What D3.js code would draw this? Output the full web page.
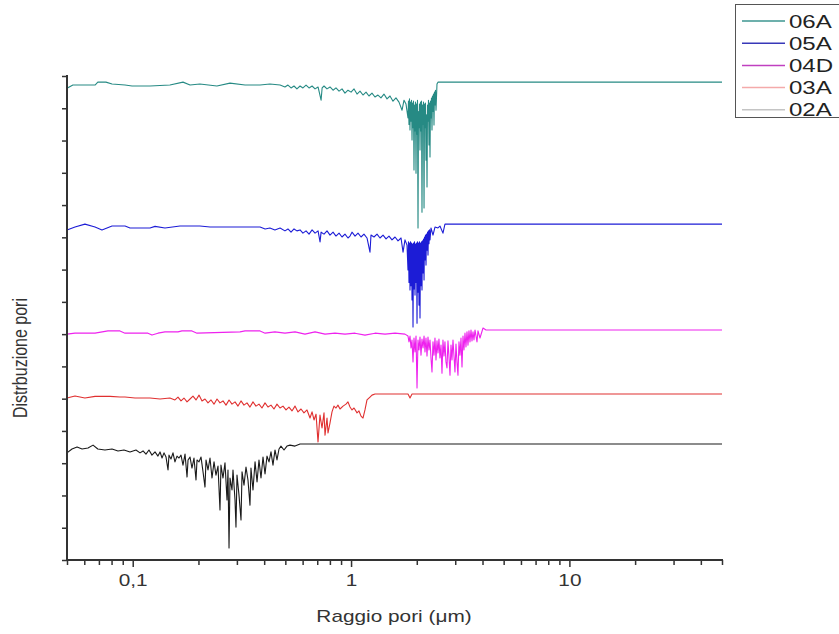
<!DOCTYPE html>
<html><head><meta charset="utf-8">
<script src="https://cdn.jsdelivr.net/npm/d3@7"></script>
<style>body{margin:0;background:#fff}svg{display:block}</style>
</head><body>
<svg id="c" width="839" height="634"></svg>
<script>
const seriesNames = ["06A","05A","04D","03A","02A"];
const xMajorTicks = [0.1, 1, 10];
const xTickLabels = ["0,1", "1", "10"];
const xMinorTicks = [0.05,0.06,0.07,0.08,0.09,0.2,0.3,0.4,0.5,0.6,0.7,0.8,0.9,2,3,4,5,6,7,8,9,20,30,40,50];
const yTicks = [0,1,2,3,4,5,6,7,8,9,10,11,12,13,14,15];

const data06A = [[0.050,14.62],[0.0532,14.72],[0.0672,14.72],[0.0692,14.81],[0.0754,14.81],[0.0804,14.75],[0.0922,14.72],[0.0993,14.69],[0.120,14.69],[0.148,14.72],[0.170,14.81],[0.183,14.72],[0.203,14.75],[0.243,14.69],[0.279,14.78],[0.327,14.72],[0.383,14.72],[0.425,14.75],[0.473,14.72],
[0.498,14.66],[0.514,14.72],[0.531,14.63],[0.548,14.69],[0.565,14.60],[0.584,14.69],[0.602,14.63],[0.622,14.72],[0.642,14.63],[0.663,14.69],[0.684,14.60],[0.706,14.66],[0.729,14.25],[0.737,14.63],[0.752,14.69],[0.776,14.60],[0.801,14.66],[0.827,14.56],[0.853,14.63],[0.881,14.53],[0.909,14.60],[0.938,14.47],[0.968,14.56],[1.000,14.50],[1.032,14.60],[1.065,14.44],[1.099,14.53],[1.134,14.41],[1.171,14.50],[1.208,14.38],[1.247,14.47],[1.287,14.35],[1.328,14.41],[1.371,14.32],[1.415,14.44],[1.461,14.29],[1.508,14.38],[1.556,14.22],[1.606,14.32],[1.658,14.19],[1.712,13.94],[1.748,14.25],[1.785,14.13],
[1.823,13.70],[1.832,14.22],[1.842,13.50],[1.852,14.29],[1.862,13.33],[1.872,14.19],[1.882,13.60],[1.892,14.25],[1.902,13.02],[1.912,14.16],[1.922,13.40],[1.932,14.22],[1.942,12.09],[1.953,14.10],[1.963,13.30],[1.973,14.19],[1.984,11.99],[1.994,14.13],[2.005,13.20],[2.015,14.25],[2.026,10.29],[2.036,13.90],[2.047,13.40],[2.058,14.13],[2.069,12.71],[2.080,14.19],[2.091,13.30],[2.102,14.22],[2.113,10.78],[2.124,14.10],[2.136,13.50],[2.147,14.19],[2.159,10.91],[2.170,14.13],[2.181,13.40],[2.192,14.16],[2.204,12.39],[2.216,13.80],[2.228,11.56],[2.240,14.10],[2.251,13.60],[2.263,14.25],[2.275,12.86],[2.287,14.16],[2.299,12.49],[2.311,14.22],[2.323,13.70],[2.335,14.32],[2.348,13.33],[2.360,14.38],[2.373,13.90],[2.385,14.44],[2.398,13.48],[2.410,14.50],[2.423,14.10],[2.436,14.56],[2.449,13.94],[2.475,14.75],[2.501,14.81],[50,14.81]];

const data05A = [[0.050,10.23],[0.0544,10.32],[0.0604,10.41],[0.0672,10.32],[0.0723,10.23],[0.0804,10.35],[0.0922,10.35],[0.0972,10.29],[0.120,10.29],[0.1265,10.34],[0.1405,10.29],[0.1646,10.35],[0.203,10.35],[0.226,10.32],[0.383,10.32],[0.404,10.26],[0.425,10.29],[0.448,10.23],[0.473,10.29],
[0.498,10.20],[0.514,10.26],[0.531,10.16],[0.548,10.26],[0.565,10.20],[0.584,10.23],[0.602,10.13],[0.622,10.20],[0.642,10.10],[0.663,10.23],[0.684,10.13],[0.706,10.20],[0.721,9.86],[0.729,10.16],[0.752,10.10],[0.776,10.20],[0.801,10.07],[0.827,10.16],[0.853,10.04],[0.881,10.13],[0.909,10.01],[0.938,10.10],[0.968,9.98],[0.989,10.04],[1.010,10.16],[1.043,10.04],[1.076,10.13],[1.111,10.01],[1.146,10.10],[1.183,9.98],[1.221,9.54],[1.234,10.07],[1.274,10.01],[1.315,10.10],[1.357,9.98],[1.401,10.07],[1.446,9.95],[1.492,10.04],[1.540,9.92],[1.590,10.01],[1.641,9.89],[1.694,9.98],[1.730,9.54],[1.766,9.92],[1.804,9.76],
[1.823,8.99],[1.832,9.86],[1.842,8.60],[1.852,9.82],[1.862,8.37],[1.872,9.86],[1.882,8.50],[1.892,9.82],[1.902,8.06],[1.912,9.79],[1.922,7.22],[1.932,9.82],[1.942,8.40],[1.953,9.86],[1.963,8.21],[1.973,9.79],[1.984,8.60],[1.994,9.82],[2.005,7.34],[2.015,9.86],[2.026,8.30],[2.036,9.82],[2.047,7.90],[2.058,9.86],[2.069,7.50],[2.080,9.82],[2.091,8.50],[2.102,9.86],[2.113,8.37],[2.124,9.89],[2.136,8.90],[2.147,9.95],[2.159,8.68],[2.170,10.01],[2.181,9.30],[2.192,10.07],[2.204,9.14],[2.216,10.10],[2.228,9.60],[2.240,10.16],[2.251,9.45],[2.263,10.20],[2.275,9.80],[2.287,10.23],[2.299,9.92],[2.323,10.29],[2.373,10.07],[2.423,10.32],[2.501,10.29],[2.554,10.35],[2.636,10.13],[2.692,10.41],[50,10.41]];

const data04D = [[0.050,7.00],[0.0544,7.03],[0.0672,7.03],[0.0770,7.10],[0.0874,7.10],[0.0922,7.03],[0.1174,7.03],[0.1225,6.97],[0.1305,7.03],[0.1405,7.07],[0.1612,7.07],[0.1681,7.10],[0.1868,7.10],[0.1970,7.03],[0.310,7.07],[0.327,7.10],[0.383,7.10],[0.404,7.03],[0.448,7.07],[0.498,7.03],[0.554,7.07],[0.615,7.00],[0.684,7.07],[0.760,7.00],[0.844,7.03],[0.938,7.00],[1.043,7.03],[1.158,6.97],[1.287,7.03],[1.431,7.00],[1.590,7.03],[1.766,7.00],
[1.823,6.94],[1.842,6.76],[1.862,6.94],[1.882,6.57],[1.902,6.82],[1.922,6.14],[1.942,6.88],[1.963,6.45],[1.984,6.94],[2.005,5.33],[2.026,6.82],[2.047,6.51],[2.069,6.91],[2.091,6.35],[2.113,6.85],[2.136,6.57],[2.159,6.94],[2.181,6.45],[2.204,6.88],[2.228,6.32],[2.251,6.91],[2.275,6.51],[2.299,6.82],[2.323,6.26],[2.348,5.83],[2.373,6.76],[2.398,6.35],[2.423,6.88],[2.449,6.20],[2.475,6.79],[2.501,6.42],[2.527,6.85],[2.554,6.26],[2.582,6.66],[2.609,5.79],[2.636,6.82],[2.665,6.32],[2.692,6.76],[2.721,6.14],[2.750,5.95],[2.779,6.79],[2.809,6.29],[2.839,5.73],[2.869,6.66],[2.899,6.20],[2.930,6.82],[2.961,6.32],[2.992,5.83],[3.024,6.69],[3.056,6.14],[3.088,5.73],[3.121,6.76],[3.154,6.35],[3.188,6.88],[3.222,5.98],[3.256,6.94],[3.290,6.51],[3.325,7.03],[3.360,6.60],[3.396,7.07],[3.432,6.66],[3.468,7.10],[3.505,6.76],[3.543,7.13],[3.580,6.79],[3.618,7.07],[3.656,6.82],[3.695,7.13],[3.774,6.76],[3.814,7.10],[3.895,6.88],[4.021,7.19],[4.150,7.13],[50,7.13]];

const data03A = [[0.050,5.02],[0.0544,5.08],[0.0604,5.02],[0.0672,5.07],[0.0787,5.07],[0.0874,5.05],[0.0922,5.05],[0.1024,5.02],[0.120,5.02],[0.1334,4.99],[0.148,5.02],[0.1561,4.96],[0.1612,5.05],[0.1664,4.93],[0.1717,5.02],[0.1773,4.90],[0.183,4.99],[0.1888,5.08],[0.1949,4.96],[0.2012,5.11],[0.2076,4.93],[0.2143,4.99],[0.2212,4.87],[0.2283,4.96],[0.2357,4.83],[0.2432,4.99],[0.2510,4.87],[0.2591,4.93],[0.2675,4.80],[0.2761,4.96],[0.2849,4.83],[0.2941,4.90],[0.3035,4.77],[0.3133,4.93],[0.3233,4.80],[0.3337,4.87],[0.3444,4.74],[0.3555,4.90],[0.3669,4.77],[0.3787,4.83],[0.3908,4.71],[0.4036,4.87],[0.4164,4.74],[0.4298,4.80],[0.4436,4.68],[0.4579,4.83],[0.4727,4.71],[0.4878,4.77],[0.5035,4.65],[0.5196,4.74],[0.5364,4.62],[0.5536,4.77],[0.5714,4.59],[0.5898,4.68],[0.6087,4.56],[0.6283,4.65],[0.6486,4.40],[0.6627,4.59],[0.6767,4.34],[0.6911,4.52],[0.7058,3.66],[0.7206,4.49],[0.7362,4.09],[0.7518,4.56],[0.7598,3.87],[0.7760,4.40],[0.7843,3.94],[0.801,4.25],[0.818,4.59],[0.835,4.77],[0.853,4.71],[0.871,4.80],[0.890,4.68],[0.919,4.77],[0.948,4.83],[0.968,4.90],[0.989,4.74],[1.010,4.65],[1.032,4.71],[1.065,4.56],[1.087,4.62],[1.111,4.46],[1.134,4.40],[1.158,4.65],[1.183,4.96],[1.221,5.05],[1.247,5.11],[1.287,5.145],[1.823,5.145],[1.862,5.02],[1.902,5.145],[50,5.145]];

const data02A = [[0.050,3.32],[0.0527,3.44],[0.0556,3.50],[0.0586,3.44],[0.0624,3.47],[0.0658,3.56],[0.0692,3.44],[0.0746,3.41],[0.0804,3.44],[0.0856,3.38],[0.0912,3.41],[0.0972,3.35],[0.1035,3.41],[0.1080,3.32],[0.1115,3.38],[0.1150,3.28],[0.1187,3.41],[0.1225,3.25],[0.1265,3.35],[0.1305,3.22],[0.1334,3.35],[0.1362,3.16],[0.1391,3.32],[0.1421,3.19],[0.1451,2.79],[0.1466,3.25],[0.1497,3.13],[0.1529,3.32],[0.1561,3.04],[0.1595,3.22],[0.1629,3.16],[0.1664,3.25],[0.1699,2.94],[0.1736,3.28],[0.1773,2.57],[0.1792,3.10],[0.1830,3.19],[0.1868,2.85],[0.1908,3.16],[0.1949,2.48],[0.1970,3.10],[0.2012,3.04],[0.2055,3.19],[0.2099,2.73],[0.2143,2.26],[0.2166,3.10],[0.2212,2.79],[0.2259,3.16],[0.2307,2.54],[0.2357,3.04],[0.2406,2.63],[0.2458,2.91],[0.2510,1.55],[0.2536,2.94],[0.2591,2.54],[0.2646,3.01],[0.2703,1.86],[0.2731,2.79],[0.2761,0.37],[0.2790,2.54],[0.2849,2.17],[0.2879,2.79],[0.2941,1.86],[0.2971,1.02],[0.3003,2.63],[0.3067,2.01],[0.3133,1.24],[0.3167,2.73],[0.3233,2.32],[0.3302,2.88],[0.3372,2.48],[0.3444,1.70],[0.3480,2.85],[0.3555,2.17],[0.3633,3.04],[0.3710,2.42],[0.3787,3.10],[0.3868,2.54],[0.3951,3.19],[0.4036,2.67],[0.4121,3.22],[0.4209,3.04],[0.4298,3.35],[0.4390,2.94],[0.4483,3.41],[0.4579,3.10],[0.4677,3.44],[0.4776,3.53],[0.4931,3.41],[0.5088,3.53],[0.5253,3.56],[0.5536,3.53],[0.584,3.595],[50,3.595]];

const seriesData = [data06A, data05A, data04D, data03A, data02A];
const lineColors = ["#268a84", "#1c1cd6", "#ee22ee", "#e03030", "#1a1a1a"];
const legendColors = ["#3d9690", "#3838b8", "#c040c0", "#f4aaaa", "#c4c4c4"];

const svg = d3.select("#c");
const font = "'Liberation Sans', Arial, sans-serif";
const SX = 1.3; // horizontal stretch of the text glyphs
const x = d3.scaleLog().domain([0.05, 50]).range([67, 722]);
const y = d3.scaleLinear().domain([0, 15]).range([560, 76]);

const line = d3.line().x(d => x(d[0])).y(d => y(d[1]));

seriesData.forEach((s, i) => {
  svg.append("path").datum(s)
    .attr("fill", "none")
    .attr("stroke", lineColors[i])
    .attr("stroke-width", 1.1)
    .attr("stroke-linejoin", "round")
    .attr("d", line);
});

// X axis
const xAxisG = svg.append("g").attr("transform", "translate(0,560)");
xAxisG.append("g").call(d3.axisBottom(x).tickValues(xMinorTicks).tickSize(5).tickFormat(""))
  .call(g => g.select(".domain").remove());
xAxisG.append("g").call(d3.axisBottom(x).tickValues(xMajorTicks).tickSize(7).tickPadding(8)
    .tickFormat((d, i) => xTickLabels[i]))
  .call(g => g.select(".domain").remove());
xAxisG.selectAll("line").attr("stroke", "#333").attr("stroke-width", 1.5);
xAxisG.selectAll("text").attr("font-family", font).attr("font-size", 16).attr("fill", "#333")
  .attr("transform", `scale(${SX},1)`);
xAxisG.append("line").attr("x1", 66).attr("x2", 723).attr("y1", 0).attr("y2", 0)
  .attr("stroke", "#333").attr("stroke-width", 2);

// Y axis
const yAxisG = svg.append("g").attr("transform", "translate(67,0)");
yAxisG.call(d3.axisLeft(y).tickValues(yTicks).tickSize(5).tickFormat(""))
  .call(g => g.select(".domain").remove());
yAxisG.selectAll("line").attr("stroke", "#333").attr("stroke-width", 1.5);
yAxisG.append("line").attr("x1", 0).attr("x2", 0).attr("y1", y(15) - 1).attr("y2", y(0) + 1)
  .attr("stroke", "#333").attr("stroke-width", 2);

// Axis titles
svg.append("text").attr("transform", `translate(394,622) scale(${SX},1)`).attr("text-anchor", "middle")
  .attr("font-family", font).attr("font-size", 16).attr("fill", "#333")
  .text("Raggio pori (μm)");
svg.append("text").attr("transform", `translate(27,358) scale(${SX},1) rotate(-90)`).attr("text-anchor", "middle")
  .attr("font-family", font).attr("font-size", 16).attr("fill", "#333")
  .text("Distrbuzione pori");

// Legend
const lg = svg.append("g");
lg.append("rect").attr("x", 735.5).attr("y", 4.5).attr("width", 120).attr("height", 113)
  .attr("fill", "#fff").attr("stroke", "#555").attr("stroke-width", 1);
seriesNames.forEach((n, i) => {
  const yy = 21 + i * 22.2;
  lg.append("line").attr("x1", 742).attr("x2", 785).attr("y1", yy).attr("y2", yy)
    .attr("stroke", legendColors[i]).attr("stroke-width", 1.5);
  lg.append("text").attr("transform", `translate(789,${yy + 6.5}) scale(${SX},1)`)
    .attr("font-family", font).attr("font-size", 18.5).attr("fill", "#222").text(n);
});
</script>
</body></html>
